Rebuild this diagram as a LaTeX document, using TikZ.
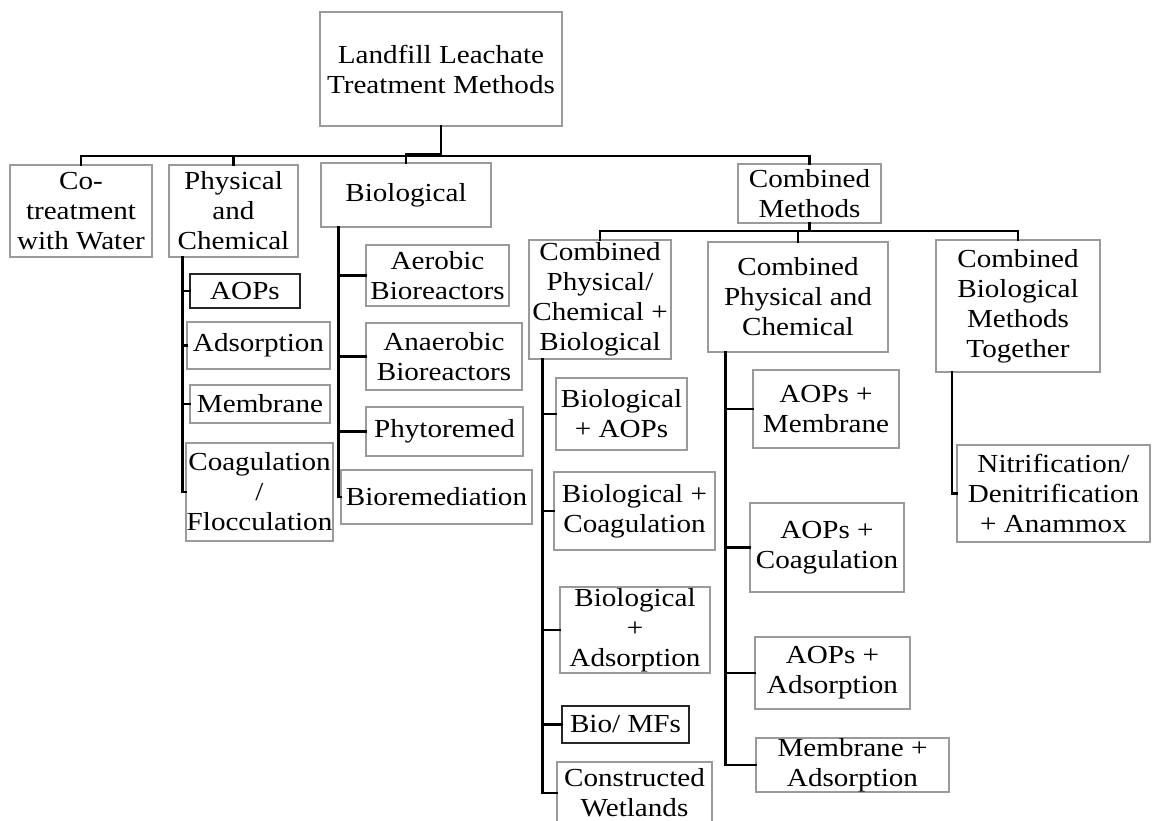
\documentclass[tikz,border=0pt]{standalone}
\usepackage{fontspec}
\setmainfont{Liberation Serif}[FakeStretch=1.12]
\begin{document}
\begin{tikzpicture}[x=1pt,y=-1pt,
  box/.style={draw=boxgray,line width=1.1pt,inner sep=0pt,align=center,
    font=\fontsize{26}{30}\selectfont},
  darkbox/.style={box,draw=black!85},
  conn/.style={line width=2.6pt,black,line cap=rect}]
\definecolor{boxgray}{HTML}{9A9A9A}
\clip (0,0) rectangle (1152,821);
\fill[white] (0,0) rectangle (1152,821);
\newcommand{\mkbox}[6][box]{%
  \node[#1,minimum width={(#4-#2)*1pt},minimum height={(#5-#3)*1pt}]
    (#6) at ({(#2+#4)/2},{(#3+#5)/2})}
% level 0/1
\mkbox{320}{12}{562}{126}{root}{Landfill Leachate\\Treatment Methods};
\mkbox{10}{165}{152}{257}{cot}{Co-\\treatment\\with Water};
\mkbox{169}{165}{298}{257}{pc}{Physical\\and\\Chemical};
\mkbox{321}{163}{491}{227}{bio}{Biological};
\mkbox{738}{164}{881}{223}{comb}{Combined\\Methods};
% physical and chemical
\mkbox[darkbox]{190}{274}{300}{308}{aops}{AOPs};
\mkbox{187}{322}{330}{369}{ads}{Adsorption};
\mkbox{190}{385}{330}{423}{mem}{Membrane};
\mkbox{186}{443}{333}{541}{coag}{Coagulation\\/\\Flocculation};
% biological
\mkbox{366}{245}{509}{306}{aer}{Aerobic\\Bioreactors};
\mkbox{366}{323}{522}{390}{ana}{Anaerobic\\Bioreactors};
\mkbox{366}{407}{523}{456}{phy}{Phytoremed};
\mkbox{341}{470}{532}{524}{biorem}{Bioremediation};
% combined level 2
\mkbox{529}{240}{671}{359}{cpcb}{Combined\\Physical/\\Chemical +\\Biological};
\mkbox{708}{242}{888}{352}{cpc}{Combined\\Physical and\\Chemical};
\mkbox{936}{240}{1100}{372}{cbm}{Combined\\Biological\\Methods\\Together};
% cpcb children
\mkbox{556}{378}{687}{450}{baops}{Biological\\+ AOPs};
\mkbox{554}{472}{715}{550}{bcoag}{Biological +\\Coagulation};
\mkbox{560}{587}{710}{673}{bads}{Biological\\+\\Adsorption};
\mkbox[darkbox]{562}{706}{689}{743}{biomf}{Bio/ MFs};
\mkbox{557}{762}{712}{824}{cw}{Constructed\\Wetlands};
% cpc children
\mkbox{753}{370}{899}{448}{amem}{AOPs +\\Membrane};
\mkbox{750}{503}{904}{592}{acoag}{AOPs +\\Coagulation};
\mkbox{755}{637}{910}{709}{aads}{AOPs +\\Adsorption};
\mkbox{756}{738}{949}{792}{memads}{Membrane +\\Adsorption};
% cbm child
\mkbox{957}{445}{1150}{542}{nit}{Nitrification/\\Denitrification\\+ Anammox};
% top connectors
\coordinate (h1) at (0,156);
\coordinate (h1b) at (0,154);
\draw[conn] (root.south) -- (root.south |- h1b) -- (bio.north |- h1b);
\draw[conn] (cot.north) -- (cot.north |- h1) -- (comb.north |- h1) -- (comb.north);
\draw[conn] (pc.north) -- (pc.north |- h1);
\draw[conn] (bio.north) -- (bio.north |- h1);
\coordinate (h2) at (0,231);
\draw[conn] (comb.south) -- (comb.south |- h2);
\draw[conn] (cpcb.north) -- (cpcb.north |- h2) -- (cbm.north |- h2) -- (cbm.north);
\draw[conn] (cpc.north) -- (cpc.north |- h2);
% spines
\draw[conn] ([xshift=14pt]pc.south west) |- (coag.west);
\foreach \c in {aops,ads,mem} \draw[conn] ([xshift=14pt]pc.south west |- \c.west) -- (\c.west);
\draw[conn] ([xshift=18pt]bio.south west) |- (biorem.west);
\foreach \c in {aer,ana,phy} \draw[conn] ([xshift=18pt]bio.south west |- \c.west) -- (\c.west);
\draw[conn] ([xshift=14pt]cpcb.south west) |- (cw.west);
\foreach \c in {baops,bcoag,bads,biomf} \draw[conn] ([xshift=14pt]cpcb.south west |- \c.west) -- (\c.west);
\draw[conn] ([xshift=18pt]cpc.south west) |- (memads.west);
\foreach \c in {amem,acoag,aads} \draw[conn] ([xshift=18pt]cpc.south west |- \c.west) -- (\c.west);
\draw[conn] ([xshift=16.5pt]cbm.south west) |- (nit.west);
\end{tikzpicture}
\end{document}
